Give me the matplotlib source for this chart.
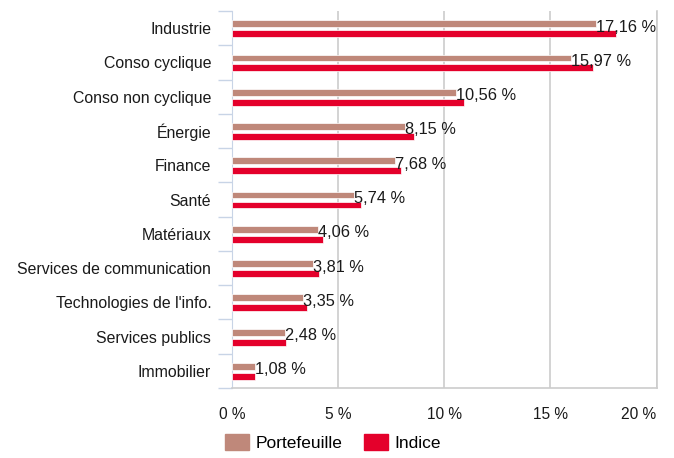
import matplotlib
matplotlib.use("Agg")
import matplotlib.pyplot as plt
import numpy as np
from matplotlib.patches import Patch

plt.rcParams['font.family'] = ['Liberation Sans', 'DejaVu Sans']

categories = ["Industrie", "Conso cyclique", "Conso non cyclique", "Énergie", "Finance",
              "Santé", "Matériaux", "Services de communication", "Technologies de l'info.",
              "Services publics", "Immobilier"]
portefeuille = [17.16, 15.97, 10.56, 8.15, 7.68, 5.74, 4.06, 3.81, 3.35, 2.48, 1.08]
indice = [18.1, 17.0, 10.95, 8.57, 7.97, 6.07, 4.29, 4.10, 3.55, 2.53, 1.10]
xticks = [0, 5, 10, 15, 20]
xtick_labels = ["0 %", "5 %", "10 %", "15 %", "20 %"]

c_port = "#BF887A"
c_ind = "#E4002B"

fig = plt.figure(figsize=(6.74, 4.58), dpi=100)
ax = fig.add_axes([232/674, 1 - 388/458, (656.5-232)/674, (388-11)/458])

n = len(categories)
y = np.arange(n)
h = 0.2
ax.barh(y - 0.13, portefeuille, height=h, color=c_port, edgecolor="white", linewidth=0.5, zorder=3)
ax.barh(y + 0.16, indice, height=h, color=c_ind, edgecolor="white", linewidth=0.5, zorder=3)

for yi, v in zip(y, portefeuille):
    ax.text(v, yi - 0.03, f"{v:.2f} %".replace(".", ","), va="center", ha="left",
            fontsize=11.8, color="#1a1a1a", zorder=4)

ax.set_ylim(n - 0.5, -0.5)
ax.set_xlim(0, 20)
ax.set_xticks(xticks)
ax.set_xticklabels(xtick_labels, fontsize=11.2, color="#1a1a1a")
ax.get_xticklabels()[-1].set_horizontalalignment("right")
ax.tick_params(axis="x", length=0, pad=14)

ax.set_yticks(y)
ax.set_yticklabels(categories, fontsize=11.4, color="#1a1a1a")
ax.tick_params(axis="y", which="major", length=0, pad=15)
ax.set_yticks(np.arange(n + 1) - 0.5, minor=True)
ax.tick_params(axis="y", which="minor", length=10, color="#C8D4E6", width=1)

ax.grid(axis="x", color="#CCCCCC", linewidth=1.2, zorder=0)
ax.spines["top"].set_visible(False)
ax.spines["left"].set_color("#C8D4E6")
ax.spines["bottom"].set_color("#CCCCCC")
ax.spines["right"].set_color("#CCCCCC")
ax.spines["bottom"].set_linewidth(1.2)
ax.spines["right"].set_linewidth(1.2)

handles = [Patch(color=c_port, label="Portefeuille"), Patch(color=c_ind, label="Indice")]
fig.legend(handles=handles, loc="center left", bbox_to_anchor=(225/674, 1 - 442.5/458),
           ncol=2, frameon=False, fontsize=12.5, handlelength=1.38, handleheight=1.09,
           columnspacing=1.2, handletextpad=0.4, borderpad=0, borderaxespad=0)

fig.savefig("out.png", dpi=100)
